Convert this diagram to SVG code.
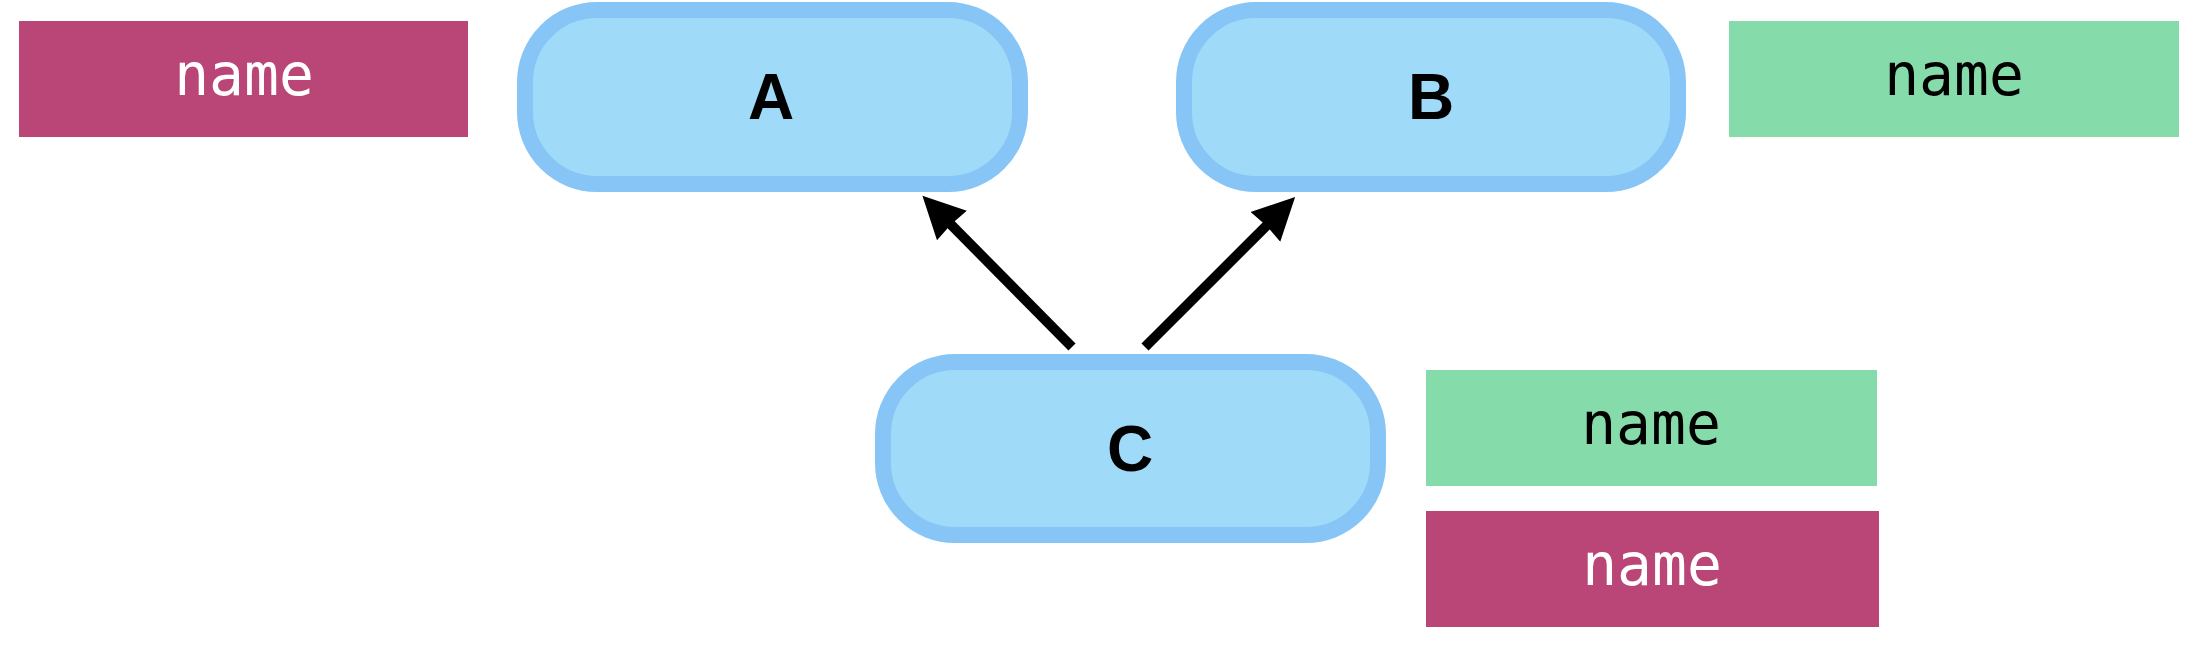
<svg xmlns="http://www.w3.org/2000/svg" width="2190" height="650" viewBox="0 0 2190 650">
<style>
.node rect{fill:#a0daf9;stroke:#86c5f5;stroke-width:16}
.node text{font-family:"Liberation Sans",Arial,sans-serif;font-weight:bold;font-size:64px;fill:#000;text-anchor:middle}
.tag text{font-family:"DejaVu Sans Mono",monospace;font-size:58px;text-anchor:middle}
.red rect{fill:#b94676}
.red text{fill:#ffffff}
.green rect{fill:#85dcaa}
.green text{fill:#000000}
.edge{stroke:#000;stroke-width:10;fill:none;marker-end:url(#arrow)}
</style>
<defs>
<marker id="arrow" markerUnits="userSpaceOnUse" viewBox="0 0 44 44" markerWidth="44" markerHeight="44" refX="12" refY="22" orient="auto">
<path d="M0,1 L42,22 L0,43 L1.5,22 Z" fill="#000"/>
</marker>
</defs>
<rect width="2190" height="650" fill="#ffffff"/>
<g id="connectors">
<line class="edge" x1="1072" y1="347" x2="943.5" y2="217"/>
<line class="edge" x1="1145" y1="347" x2="1273.9" y2="218.3"/>
</g>
<g id="node-A" class="node">
<rect x="525" y="10" width="495" height="174" rx="72" ry="72"/>
<text x="771" y="119">A</text>
</g>
<g id="node-B" class="node">
<rect x="1184" y="10" width="494" height="174" rx="72" ry="72"/>
<text x="1431" y="119">B</text>
</g>
<g id="node-C" class="node">
<rect x="883" y="362" width="495" height="173" rx="72" ry="72"/>
<text x="1130" y="471">C</text>
</g>
<g id="tag-A" class="tag red">
<rect x="19" y="21" width="449" height="116"/>
<text x="244" y="95">name</text>
</g>
<g id="tag-B" class="tag green">
<rect x="1729" y="21" width="450" height="116"/>
<text x="1954" y="95">name</text>
</g>
<g id="tag-C1" class="tag green">
<rect x="1426" y="370" width="451" height="116"/>
<text x="1651" y="444">name</text>
</g>
<g id="tag-C2" class="tag red">
<rect x="1426" y="511" width="453" height="116"/>
<text x="1652" y="585">name</text>
</g>
</svg>
